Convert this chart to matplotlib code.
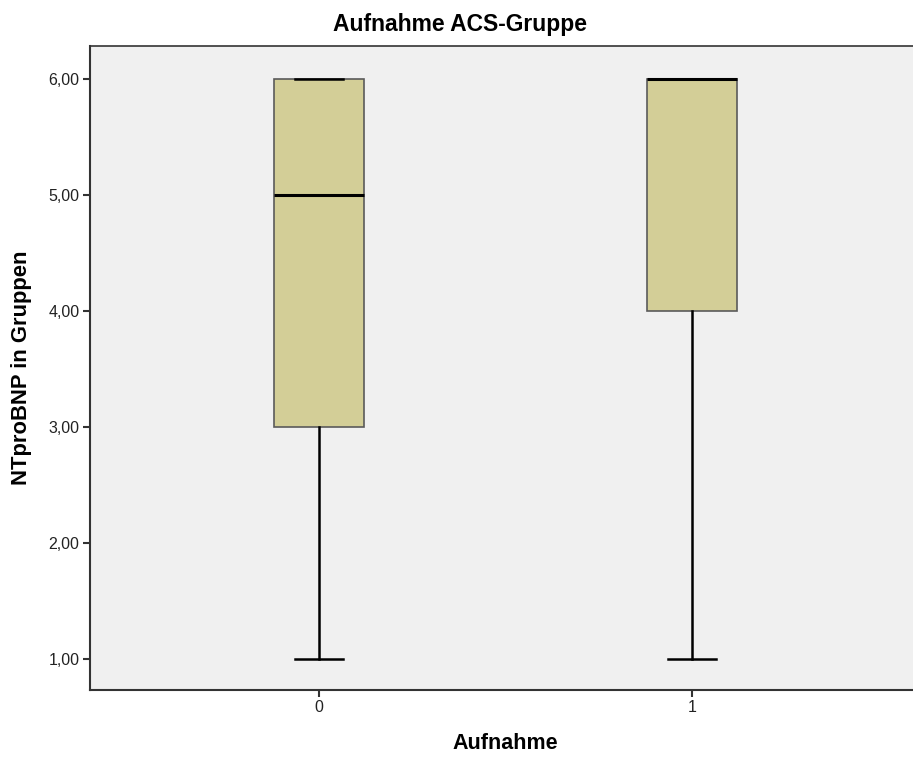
import matplotlib
matplotlib.use("Agg")
import matplotlib.pyplot as plt

categories = ["0", "1"]
whislo = [1.0, 1.0]
q1 = [3.0, 4.0]
med = [5.0, 6.0]
q3 = [6.0, 6.0]
whishi = [6.0, 6.0]
yticks = [1, 2, 3, 4, 5, 6]
ytick_labels = ["1,00", "2,00", "3,00", "4,00", "5,00", "6,00"]

plt.rcParams['font.family'] = ['Liberation Sans', 'DejaVu Sans']

fig = plt.figure(figsize=(9.13, 7.6), dpi=100)
ax = fig.add_axes([90/913, 1-690/760, (921-90)/913, (690-46)/760])
ax.set_facecolor('#f0f0f0')

stats = []
for i, c in enumerate(categories):
    stats.append(dict(label=c, whislo=whislo[i], q1=q1[i], med=med[i], q3=q3[i],
                      whishi=whishi[i], fliers=[]))

ax.bxp(stats, positions=range(len(categories)), widths=0.24, patch_artist=True,
       showfliers=False,
       boxprops=dict(facecolor='#d3ce97', edgecolor='#5a5a5a', linewidth=1.2),
       medianprops=dict(color='black', linewidth=2.2),
       whiskerprops=dict(color='black', linewidth=1.8),
       capprops=dict(color='black', linewidth=1.8), capwidths=0.13)

ax.set_xlim(-0.614, 1.614)
ax.set_ylim(0.733, 6.284)
ax.set_yticks(yticks)
ax.set_yticklabels(ytick_labels)
ax.set_xticks(range(len(categories)))
ax.set_xticklabels(categories)
ax.tick_params(axis='both', labelsize=11.5, length=5, width=1.5, color='#333333',
               labelcolor='#222222', direction='out', pad=2.5)
for s in ['left', 'bottom']:
    ax.spines[s].set_color('#333333')
    ax.spines[s].set_linewidth(1.5)
ax.spines['top'].set_color('#333333')
ax.spines['top'].set_linewidth(1.2)
ax.spines['right'].set_visible(False)

ax.set_xlabel('Aufnahme', fontsize=15.5, fontweight='bold', labelpad=13)
ax.set_ylabel('NTproBNP in Gruppen', fontsize=15.8, fontweight='bold', labelpad=12)
fig.text(460/913, 1-25/760, 'Aufnahme ACS-Gruppe', ha='center', va='center',
         fontsize=16.5, fontweight='bold')

fig.savefig('out.png', dpi=100)
